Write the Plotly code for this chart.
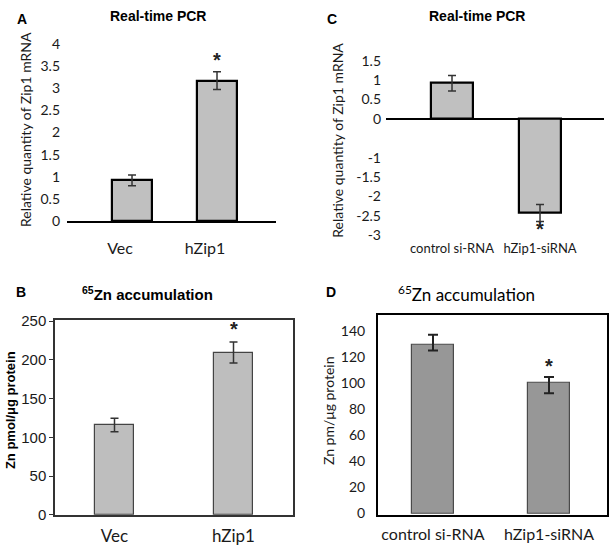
import plotly.graph_objects as go

W, H = 609, 546

# ---------------- data ----------------
a_cats = ["Vec", "hZip1"]
a_vals = [0.92, 3.17]
a_err = [0.12, 0.20]
a_ticks = [0, 0.5, 1, 1.5, 2, 2.5, 3, 3.5, 4]

b_cats = ["Vec", "hZip1"]
b_vals = [115.8, 209.5]
b_err = [8.7, 13.5]
b_ticks = [0, 50, 100, 150, 200, 250]

c_cats = ["control si-RNA", "hZip1-siRNA"]
c_vals = [0.92, -2.43]
c_err = [0.20, 0.22]
c_ticks = [1.5, 1, 0.5, 0, -1, -1.5, -2, -2.5, -3]

d_cats = ["control si-RNA", "hZip1-siRNA"]
d_vals = [129.5, 100.3]
d_err_plus = [7.5, 4.3]
d_err_minus = [4.5, 8.1]
d_ticks = [0, 20, 40, 60, 80, 100, 120, 140]

# significance markers (category, y-value)
a_star = ("hZip1", 3.63)
b_star = ("hZip1", 239.5)
c_star = ("hZip1-siRNA", -2.85)
d_star = ("hZip1-siRNA", 112.7)

CAL = "Lato, 'Open Sans', sans-serif"
ARI = "'Liberation Sans', Arial, sans-serif"
TXT = "#1a1a1a"


def fx(px):
    return px / W


def fy(py):
    return 1 - py / H


fig = go.Figure()

err_style = dict(type="data", color="#333333", thickness=1.5, width=4)

# A
fig.add_trace(go.Bar(x=a_cats, y=a_vals, width=0.47, xaxis="x", yaxis="y",
                     marker=dict(color="#c0c0c0", line=dict(color="#000000", width=2.2)),
                     error_y=dict(array=a_err, **err_style), showlegend=False))
# B
fig.add_trace(go.Bar(x=b_cats, y=b_vals, width=0.33, xaxis="x2", yaxis="y2",
                     marker=dict(color="#bebebe", line=dict(color="#444444", width=1.2)),
                     error_y=dict(array=b_err, **err_style), showlegend=False))
# C
fig.add_trace(go.Bar(x=c_cats, y=c_vals, width=0.47, xaxis="x3", yaxis="y3",
                     marker=dict(color="#c0c0c0", line=dict(color="#000000", width=2.2)),
                     error_y=dict(array=c_err, **err_style), showlegend=False))
# D
fig.add_trace(go.Bar(x=d_cats, y=d_vals, width=0.37, xaxis="x4", yaxis="y4",
                     marker=dict(color="#979797", line=dict(color="#4a4a4a", width=1.2)),
                     error_y=dict(type="data", symmetric=False, array=d_err_plus,
                                  arrayminus=d_err_minus, color="#222222", thickness=2, width=5),
                     showlegend=False))

layout = dict(
    width=W, height=H, margin=dict(l=0, r=0, t=0, b=0),
    paper_bgcolor="white", plot_bgcolor="rgba(0,0,0,0)",
    bargap=0,
)

# Panel A axes
layout["xaxis"] = dict(domain=[fx(67), fx(276)], anchor="y", type="category",
                       range=[-0.765, 1.694], showline=True, linecolor="#000", linewidth=1.6,
                       showgrid=False, ticks="", tickangle=0,
                       tickfont=dict(family=CAL, size=16, color=TXT),
                       ticklabelstandoff=12, ticklabelshift=-12)
layout["yaxis"] = dict(domain=[fy(220), fy(30)], anchor="x", range=[0, 4.153],
                       tickvals=a_ticks, ticktext=[f"{v:g}" for v in a_ticks],
                       showgrid=False, zeroline=False, showline=False, ticks="",
                       tickfont=dict(family=CAL, size=14, color=TXT), ticklabelstandoff=6)
# Panel B axes
layout["xaxis2"] = dict(domain=[fx(55), fx(293)], anchor="y2", type="category",
                        range=[-0.5, 1.5], showline=True, mirror=True, linecolor="#333",
                        linewidth=1.5, showgrid=False, ticks="", tickangle=0,
                        tickfont=dict(family=CAL, size=17, color=TXT), ticklabelstandoff=5)
layout["yaxis2"] = dict(domain=[fy(523), fy(322)], anchor="x2", range=[0, 251.5],
                        tickvals=b_ticks, showline=True, mirror=True, linecolor="#333",
                        linewidth=1.5, showgrid=False, zeroline=False, ticks="outside",
                        ticklen=4, tickcolor="#333",
                        tickfont=dict(family=ARI, size=15, color=TXT))
# Panel C axes
layout["xaxis3"] = dict(domain=[fx(386), fx(604)], anchor="y3", type="category",
                        range=[-0.75, 1.727], showline=False, showgrid=False, ticks="",
                        tickangle=0, tickfont=dict(family=CAL, size=13, color=TXT),
                        ticklabelstandoff=2)
layout["yaxis3"] = dict(domain=[fy(236), fy(40)], anchor="x3", range=[-3.04, 1.86],
                        tickvals=c_ticks, ticktext=[f"{v:g}" for v in c_ticks],
                        showgrid=False, zeroline=True, zerolinecolor="#000",
                        zerolinewidth=1.6, showline=False, ticks="",
                        tickfont=dict(family=CAL, size=14, color=TXT), ticklabelstandoff=4)
# Panel D axes
layout["xaxis4"] = dict(domain=[fx(378), fx(607)], anchor="y4", type="category",
                        range=[-0.474, 1.5], showline=True, mirror=True, linecolor="#000",
                        linewidth=2, showgrid=False, ticks="", tickangle=0,
                        tickfont=dict(family=CAL, size=16, color=TXT), ticklabelstandoff=4)
layout["yaxis4"] = dict(domain=[fy(523), fy(316.7)], anchor="x4", range=[-1, 152.3],
                        tickvals=d_ticks, showline=True, mirror=True, linecolor="#000",
                        linewidth=2, showgrid=False, zeroline=False, ticks="",
                        tickfont=dict(family=CAL, size=14, color=TXT), ticklabelstandoff=8)

fig.update_layout(**layout)

ann = []


def paper_text(text, x, y, font, angle=0, yanchor="middle"):
    ann.append(dict(text=text, x=fx(x), y=fy(y), xref="paper", yref="paper",
                    xanchor="center", yanchor=yanchor, showarrow=False,
                    textangle=angle, font=font))


# panel letters
paper_text("<b>A</b>", 22, 11, dict(family=ARI, size=14, color="#000"))
paper_text("<b>C</b>", 332, 11, dict(family=ARI, size=14, color="#000"))
paper_text("<b>B</b>", 21, 293, dict(family=ARI, size=14, color="#000"))
paper_text("<b>D</b>", 331, 293, dict(family=ARI, size=14, color="#000"))

# panel titles
paper_text("<b>Real-time PCR</b>", 158, 8, dict(family=ARI, size=14, color="#000"))
paper_text("<b>Real-time PCR</b>", 477, 8, dict(family=ARI, size=14, color="#000"))
paper_text("<b><sup>65</sup>Zn accumulation</b>", 147, 295, dict(family=ARI, size=15, color="#000"))
paper_text("<sup>65</sup>Zn accumulation", 467, 295, dict(family=CAL, size=17, color="#000"))

# y titles
paper_text("Relative quantity of Zip1 mRNA", 25, 126, dict(family=CAL, size=14, color=TXT), -90)
paper_text("Relative quantity of Zip1 mRNA", 338, 137, dict(family=CAL, size=14, color=TXT), -90)
paper_text("<b>Zn pmol/μg protein</b>", 10, 415, dict(family=ARI, size=13, color="#000"), -90)
paper_text("Zn pm/μg protein", 328, 416, dict(family=CAL, size=14, color=TXT), -90)

# asterisks
for (cat, yv), xr, yr in [(a_star, "x", "y"), (b_star, "x2", "y2"),
                          (c_star, "x3", "y3"), (d_star, "x4", "y4")]:
    ann.append(dict(text="<b>*</b>", x=cat, y=yv, xref=xr, yref=yr, showarrow=False,
                    xanchor="center", yanchor="middle",
                    font=dict(family=ARI, size=20, color="#222")))

fig.update_layout(annotations=ann)
fig.write_html("out.html", config={"displayModeBar": False},
               post_script="document.body.style.margin='0';document.body.style.overflow='hidden';")
